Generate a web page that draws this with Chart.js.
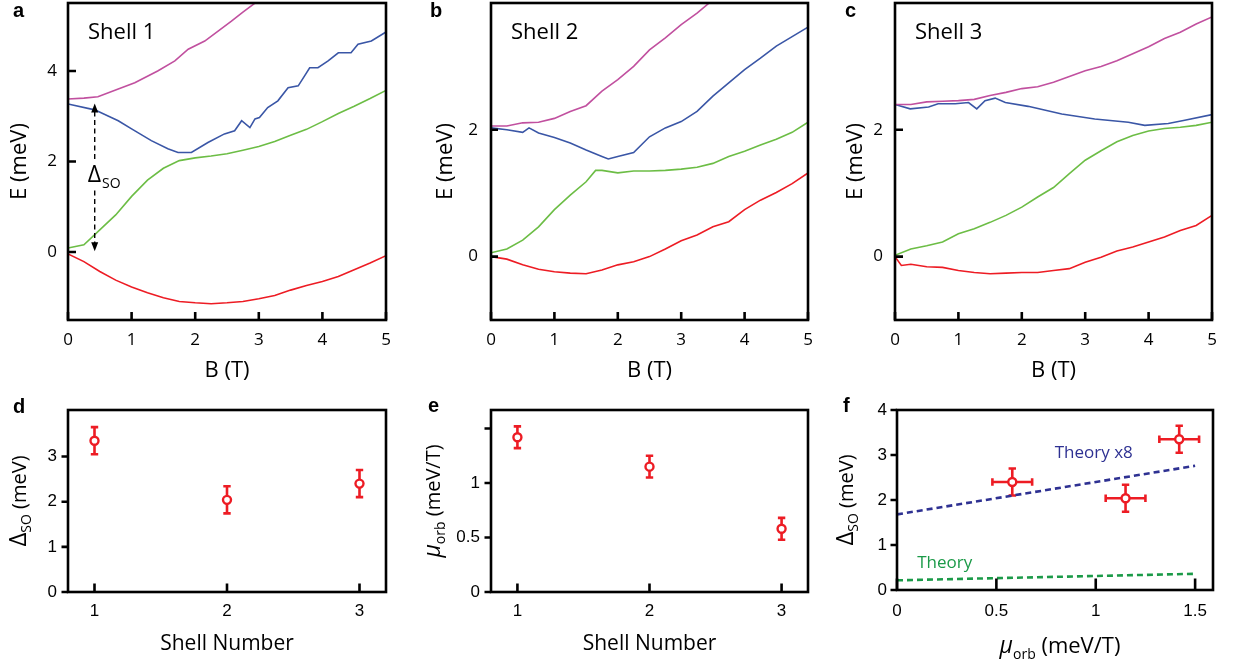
<!DOCTYPE html>
<html><head><meta charset="utf-8">
<script src="https://cdn.jsdelivr.net/npm/chart.js@4.4.1/dist/chart.umd.min.js"></script>
<style>
html,body{margin:0;padding:0;background:#fff;}
body{width:1234px;height:665px;overflow:hidden;position:relative;}
canvas{position:absolute;}
.pl{position:absolute;font:bold 20px 'Liberation Sans',Arial,sans-serif;line-height:20px;color:#000;}
</style></head><body>
<canvas id="ca"></canvas><canvas id="cb"></canvas><canvas id="cc"></canvas>
<canvas id="cd"></canvas><canvas id="ce"></canvas><canvas id="cf"></canvas>
<div class="pl" style="left:13px;top:0px">a</div>
<div class="pl" style="left:430px;top:0px">b</div>
<div class="pl" style="left:845px;top:0px">c</div>
<div class="pl" style="left:13px;top:396px">d</div>
<div class="pl" style="left:428px;top:395px">e</div>
<div class="pl" style="left:843px;top:395px">f</div>
<script>
// ================= DATA =================
const fieldB = [0,0.25,0.5,0.75,1,1.25,1.5,1.75,2,2.25,2.5,2.75,3,3.25,3.5,3.75,4,4.25,4.5,4.75,5];
const fieldTicks = [0,1,2,3,4,5];
const energyTicksA = [0,2,4];
const energyTicksBC = [0,2];

// Shell 1 (panel a)
const s1MagentaField = [0,0.25,0.47,0.79,1.05,1.41,1.68,1.89,2.15,2.36,2.57,2.75,3.0];
const s1Magenta = [3.38,3.40,3.43,3.60,3.74,4.00,4.22,4.48,4.66,4.88,5.10,5.30,5.56];
const s1BlueField = [0,0.42,0.79,1.0,1.31,1.57,1.73,1.94,2.2,2.46,2.62,2.73,2.86,2.94,3.01,3.14,3.30,3.46,3.62,3.72,3.80,3.93,4.09,4.25,4.45,4.56,4.77,5.0];
const s1Blue = [3.27,3.14,2.90,2.72,2.46,2.28,2.20,2.20,2.42,2.61,2.68,2.90,2.75,2.94,2.97,3.19,3.34,3.63,3.67,3.89,4.07,4.07,4.22,4.40,4.40,4.59,4.66,4.86];
const s1Green = [0.09,0.16,0.49,0.82,1.23,1.59,1.85,2.02,2.08,2.12,2.17,2.25,2.33,2.44,2.58,2.71,2.88,3.06,3.22,3.39,3.57];
const s1Red = [-0.04,-0.21,-0.43,-0.62,-0.77,-0.90,-1.01,-1.09,-1.12,-1.14,-1.12,-1.09,-1.03,-0.96,-0.84,-0.74,-0.65,-0.54,-0.39,-0.24,-0.08];

// Shell 2 (panel b)
const s2Magenta = [2.06,2.06,2.11,2.12,2.18,2.29,2.38,2.61,2.79,3.00,3.26,3.45,3.66,3.84,4.05];
const s2BlueField = [0,0.25,0.5,0.6,0.75,1,1.25,1.5,1.75,1.85,2,2.25,2.5,2.75,3,3.25,3.5,3.75,4,4.25,4.5,4.75,5];
const s2Blue = [2.03,2.00,1.96,2.03,1.95,1.88,1.79,1.68,1.58,1.54,1.58,1.64,1.89,2.03,2.13,2.29,2.53,2.74,2.95,3.13,3.32,3.47,3.62];
const s2GreenField = [0,0.25,0.5,0.75,1,1.25,1.5,1.65,1.75,2,2.25,2.5,2.75,3,3.25,3.5,3.75,4,4.25,4.5,4.75,5];
const s2Green = [0.06,0.12,0.26,0.47,0.74,0.97,1.18,1.36,1.36,1.32,1.35,1.35,1.36,1.38,1.41,1.47,1.58,1.66,1.76,1.85,1.96,2.12];
const s2Red = [0.00,-0.04,-0.13,-0.20,-0.24,-0.26,-0.27,-0.21,-0.13,-0.08,0.00,0.12,0.25,0.34,0.47,0.55,0.74,0.89,1.01,1.15,1.32];

// Shell 3 (panel c)
const s3Magenta = [2.40,2.40,2.44,2.45,2.46,2.48,2.54,2.59,2.65,2.68,2.75,2.84,2.93,3.00,3.09,3.20,3.31,3.44,3.54,3.67,3.78];
const s3BlueField = [0,0.24,0.53,0.68,0.95,1.16,1.29,1.42,1.58,1.74,2.10,2.63,3.15,3.68,3.94,4.31,4.57,5.0];
const s3Blue = [2.40,2.33,2.36,2.41,2.41,2.43,2.33,2.46,2.50,2.43,2.37,2.25,2.17,2.12,2.07,2.10,2.15,2.24];
const s3Green = [0.02,0.12,0.17,0.23,0.36,0.44,0.54,0.65,0.78,0.94,1.09,1.31,1.52,1.67,1.81,1.91,1.98,2.02,2.04,2.07,2.12];
const s3RedField = [0,0.1,0.25,0.5,0.75,1,1.25,1.5,1.75,2,2.25,2.5,2.75,3,3.25,3.5,3.75,4,4.25,4.5,4.75,5];
const s3Red = [0.00,-0.14,-0.12,-0.16,-0.17,-0.22,-0.25,-0.27,-0.26,-0.25,-0.25,-0.22,-0.19,-0.09,-0.01,0.09,0.15,0.23,0.31,0.41,0.49,0.65];

// Δ_SO arrow annotation (panel a), in data units
const arrowField = 0.42;
const arrowEnergies = [3.28, 2.02, 1.36, 0.02]; // top tip, gap start, gap end, bottom tip
const arrowLabelEnergy = 1.54;

// Panels d, e, f
const shellNumbers = [1,2,3];
const shellTicks = [1,2,3];
const deltaSO = [3.35,2.04,2.40];
const deltaSOErr = [0.30,0.30,0.30];
const muOrb = [1.42,1.15,0.58];
const muOrbErr = [0.10,0.10,0.10];
const deltaTicks = [0,1,2,3];
const muTicks = [0,0.5,1,1.5];
const muTickLabels = ['0','0.5','1',''];
const fDeltaTicks = [0,1,2,3,4];
const fMuTicks = [0,0.5,1,1.5];
const theoryMu = [0,1.5];
const theoryX8 = [1.68,2.76];
const theoryPlain = [0.215,0.36];
const theoryX8Label = {mu:0.99, delta:3.05};
const theoryLabel = {mu:0.24, delta:0.60};

// ================= STYLE =================
const MAG='#c1509f', BLU='#3a56a6', GRN='#6cbd45', RED='#ed1c24', NAVY='#2e3192', DGRN='#1b9a48';
const OS="'Open Sans', sans-serif", LS="'Liberation Sans', Arial, sans-serif";
Chart.defaults.font.family = OS;
Chart.defaults.color = '#000';

function pts(xs, ys){ return ys.map((v,i)=>({x:xs[i], y:v})); }

function setupCanvas(id, box){
  const c=document.getElementById(id);
  c.width=box.w; c.height=box.h;
  c.style.left=box.x+'px'; c.style.top=box.y+'px';
  c.style.width=box.w+'px'; c.style.height=box.h+'px';
  return c;
}
function fixSize(size, horiz){
  return function(s){
    if(horiz) s.height=size; else s.width=size;
    s.paddingTop=0; s.paddingBottom=0; s.paddingLeft=0; s.paddingRight=0;
  };
}
function setTicks(arr){ return function(s){ s.ticks = arr.map(v=>({value:v})); }; }

function framePlugin(xTick, yTick){
  return { id:'frame', afterDraw(chart){
    const {ctx, chartArea:a} = chart; const x=chart.scales.x, y=chart.scales.y;
    ctx.save(); ctx.strokeStyle='#000'; ctx.lineWidth=2.6;
    ctx.beginPath();
    x.ticks.forEach(t=>{const p=x.getPixelForValue(t.value); ctx.moveTo(p,a.bottom); ctx.lineTo(p,a.bottom-xTick);});
    y.ticks.forEach(t=>{const p=y.getPixelForValue(t.value); ctx.moveTo(a.left,p); ctx.lineTo(a.left+yTick,p);});
    ctx.stroke();
    ctx.strokeRect(a.left,a.top,a.right-a.left,a.bottom-a.top);
    ctx.restore();
  }};
}
function rich(ctx, parts, cx, cy, rot, color){
  ctx.save(); ctx.translate(cx,cy); if(rot) ctx.rotate(rot);
  ctx.fillStyle=color||'#000'; ctx.textBaseline='alphabetic'; ctx.textAlign='left';
  let w=0; parts.forEach(p=>{ctx.font=p.f; p.w=ctx.measureText(p.t).width; w+=p.w;});
  let x=-w/2; parts.forEach(p=>{ctx.font=p.f; ctx.fillText(p.t,x,p.dy||0); x+=p.w;});
  ctx.restore();
}
function errPlugin(){
  return { id:'err', beforeDatasetsDraw(chart){
    const ctx=chart.ctx, xs=chart.scales.x, ys=chart.scales.y;
    chart.data.datasets.forEach(ds=>{
      if(!ds.yErr && !ds.xErr) return;
      ctx.save(); ctx.strokeStyle=ds.borderColor; ctx.lineWidth=2.6; const cap=3.7;
      ds.data.forEach((p,i)=>{
        const px=xs.getPixelForValue(p.x), py=ys.getPixelForValue(p.y);
        ctx.beginPath();
        if(ds.yErr){
          const t=ys.getPixelForValue(p.y+ds.yErr[i]), b=ys.getPixelForValue(p.y-ds.yErr[i]);
          ctx.moveTo(px,t); ctx.lineTo(px,b);
          ctx.moveTo(px-cap,t); ctx.lineTo(px+cap,t); ctx.moveTo(px-cap,b); ctx.lineTo(px+cap,b);
        }
        if(ds.xErr){
          const l=xs.getPixelForValue(p.x-ds.xErr[i]), r=xs.getPixelForValue(p.x+ds.xErr[i]);
          ctx.moveTo(l,py); ctx.lineTo(r,py);
          ctx.moveTo(l,py-cap); ctx.lineTo(l,py+cap); ctx.moveTo(r,py-cap); ctx.lineTo(r,py+cap);
        }
        ctx.stroke();
      });
      ctx.restore();
    });
  }};
}

function lineDs(data, color){
  return {data, borderColor:color, borderWidth:1.6, pointRadius:0, showLine:true, tension:0, fill:false};
}

// Generic panel builder
function panel(id, box, plot, spec){
  const c=setupCanvas(id, box);
  const pad={left:0, top:plot.t-box.y, right:(box.x+box.w)-plot.r, bottom:0};
  const yW=plot.l-box.x, xH=(box.y+box.h)-plot.b;
  return new Chart(c, {
    type:'scatter',
    data:{datasets:spec.datasets},
    options:{
      responsive:false, animation:false, events:[],
      layout:{padding:pad},
      plugins:{legend:{display:false}, tooltip:{enabled:false}},
      scales:{
        x:{type:'linear', min:spec.x.min, max:spec.x.max,
           grid:{display:false, drawTicks:false, tickLength:0}, border:{display:false},
           afterBuildTicks:setTicks(spec.x.ticks),
           ticks:{autoSkip:false, maxRotation:0, padding:spec.x.pad, font:spec.x.font,
                  callback:(v,i)=> spec.x.labels ? spec.x.labels[i] : String(v)},
           title:spec.x.title ? {display:true, text:spec.x.title, font:{family:OS, size:spec.x.tsize}, padding:{top:0,bottom:spec.x.tpad}} : {display:false},
           afterFit:fixSize(xH,true)},
        y:{type:'linear', min:spec.y.min, max:spec.y.max,
           grid:{display:false, drawTicks:false, tickLength:0}, border:{display:false},
           afterBuildTicks:setTicks(spec.y.ticks),
           ticks:{autoSkip:false, padding:spec.y.pad, font:spec.y.font,
                  callback:(v,i)=> spec.y.labels ? spec.y.labels[i] : String(v)},
           title:spec.y.title ? {display:true, text:spec.y.title, font:{family:OS, size:22}, padding:{top:spec.y.tpad,bottom:0}} : {display:false},
           afterFit:fixSize(yW,false)}
      }
    },
    plugins:[errPlugin(), framePlugin(spec.xTick, spec.yTick)].concat(spec.extra||[])
  });
}

function shellText(label){
  return {id:'shell', afterDraw(chart){
    const ctx=chart.ctx, a=chart.chartArea;
    ctx.save(); ctx.font="22px "+OS; ctx.fillStyle='#000'; ctx.textBaseline='alphabetic';
    ctx.fillText(label, a.left+20, a.top+36); ctx.restore();
  }};
}
const arrowPlugin = {id:'arrow', afterDraw(chart){
  const ctx=chart.ctx, xs=chart.scales.x, ys=chart.scales.y;
  const px=xs.getPixelForValue(arrowField);
  const yTop=ys.getPixelForValue(arrowEnergies[0]), g1=ys.getPixelForValue(arrowEnergies[1]),
        g2=ys.getPixelForValue(arrowEnergies[2]), yBot=ys.getPixelForValue(arrowEnergies[3]);
  ctx.save(); ctx.strokeStyle='#000'; ctx.fillStyle='#000'; ctx.lineWidth=1.4; ctx.setLineDash([5,3.5]);
  ctx.beginPath(); ctx.moveTo(px,yTop+8); ctx.lineTo(px,g1); ctx.moveTo(px,g2); ctx.lineTo(px,yBot-8); ctx.stroke();
  ctx.setLineDash([]);
  ctx.beginPath(); ctx.moveTo(px,yTop); ctx.lineTo(px-3.5,yTop+9); ctx.lineTo(px+3.5,yTop+9); ctx.closePath(); ctx.fill();
  ctx.beginPath(); ctx.moveTo(px,yBot); ctx.lineTo(px-3.5,yBot-9); ctx.lineTo(px+3.5,yBot-9); ctx.closePath(); ctx.fill();
  const by=ys.getPixelForValue(arrowLabelEnergy);
  ctx.textBaseline='alphabetic'; ctx.font="23px "+OS; ctx.fillText('Δ', px-7, by);
  const w=ctx.measureText('Δ').width; ctx.font="14px "+OS; ctx.fillText('SO', px-7+w+1, by+6);
  ctx.restore();
}};

// ---------- panel a ----------
const xBspec = ()=>({min:0,max:5,ticks:fieldTicks,pad:10,font:{family:OS,size:17},title:'B (T)',tsize:22,tpad:10.8});
panel('ca', {x:0,y:0,w:415,h:395}, {l:68,t:3,r:386,b:320}, {
  datasets:[lineDs(pts(s1MagentaField,s1Magenta),MAG), lineDs(pts(s1BlueField,s1Blue),BLU), lineDs(pts(fieldB,s1Green),GRN), lineDs(pts(fieldB,s1Red),RED)],
  x:xBspec(), y:{min:-1.5,max:5.5,ticks:energyTicksA,pad:11,font:{family:OS,size:17},title:'E (meV)',tpad:6.8},
  xTick:8, yTick:8, extra:[shellText('Shell 1'), arrowPlugin]
});
// ---------- panel b ----------
panel('cb', {x:420,y:0,w:408,h:395}, {l:491,t:3,r:808,b:320}, {
  datasets:[lineDs(pts(fieldB,s2Magenta),MAG), lineDs(pts(s2BlueField,s2Blue),BLU), lineDs(pts(s2GreenField,s2Green),GRN), lineDs(pts(fieldB,s2Red),RED)],
  x:xBspec(), y:{min:-1,max:4,ticks:energyTicksBC,pad:13,font:{family:OS,size:17},title:'E (meV)',tpad:12.3},
  xTick:8, yTick:7, extra:[shellText('Shell 2')]
});
// ---------- panel c ----------
panel('cc', {x:830,y:0,w:404,h:395}, {l:895,t:3,r:1212,b:320}, {
  datasets:[lineDs(pts(fieldB,s3Magenta),MAG), lineDs(pts(s3BlueField,s3Blue),BLU), lineDs(pts(fieldB,s3Green),GRN), lineDs(pts(s3RedField,s3Red),RED)],
  x:xBspec(), y:{min:-1,max:4,ticks:energyTicksBC,pad:12,font:{family:OS,size:17},title:'E (meV)',tpad:12.3},
  xTick:8, yTick:8, extra:[shellText('Shell 3')]
});

// ---------- bottom panels ----------
function ptDs(data, extra){
  return Object.assign({data, borderColor:RED, backgroundColor:'#fff', pointBackgroundColor:'#fff', pointBorderColor:RED,
    pointRadius:4, pointBorderWidth:2.4, showLine:false}, extra);
}
function yTitle(parts, dx){
  return {id:'ytitle', afterDraw(chart){
    const a=chart.chartArea; rich(chart.ctx, parts, a.left-dx, (a.top+a.bottom)/2, -Math.PI/2);
  }};
}
const deltaTitle = [{t:'Δ',f:'24px '+OS},{t:'SO',f:'14px '+OS,dy:5},{t:' (meV)',f:'20px '+OS}];
const muTitle = [{t:'μ',f:'italic 23px '+OS},{t:'orb',f:'14px '+OS,dy:5},{t:' (meV/T)',f:'20px '+OS}];

panel('cd', {x:0,y:398,w:415,h:267}, {l:68,t:410,r:386,b:592}, {
  datasets:[ptDs(pts(shellNumbers,deltaSO),{yErr:deltaSOErr})],
  x:{min:0.8,max:3.2,ticks:shellTicks,pad:9.5,font:{family:LS,size:17},title:'Shell Number',tsize:21,tpad:8.4},
  y:{min:0,max:4.03,ticks:deltaTicks,pad:11,font:{family:LS,size:17}},
  xTick:8.5, yTick:-6.5, extra:[yTitle(deltaTitle,42)]
});
panel('ce', {x:420,y:398,w:408,h:267}, {l:491,t:410,r:808,b:592}, {
  datasets:[ptDs(pts(shellNumbers,muOrb),{yErr:muOrbErr})],
  x:{min:0.8,max:3.2,ticks:shellTicks,pad:9.5,font:{family:LS,size:17},title:'Shell Number',tsize:21,tpad:8.4},
  y:{min:0,max:1.67,ticks:muTicks,labels:muTickLabels,pad:11,font:{family:LS,size:17}},
  xTick:8.5, yTick:-6.5, extra:[yTitle(muTitle,51)]
});
const fText = {id:'ftext', afterDraw(chart){
  const ctx=chart.ctx, a=chart.chartArea, xs=chart.scales.x, ys=chart.scales.y;
  rich(ctx, [{t:'μ',f:'italic 23px '+OS},{t:'orb',f:'14px '+OS,dy:6},{t:' (meV/T)',f:'22px '+OS}], (a.left+a.right)/2+5, a.bottom+63, 0);
  ctx.save(); ctx.font='17px '+OS; ctx.textAlign='center'; ctx.textBaseline='middle';
  ctx.fillStyle=NAVY; ctx.fillText('Theory x8', xs.getPixelForValue(theoryX8Label.mu), ys.getPixelForValue(theoryX8Label.delta));
  ctx.fillStyle=DGRN; ctx.fillText('Theory', xs.getPixelForValue(theoryLabel.mu), ys.getPixelForValue(theoryLabel.delta));
  ctx.restore();
}};
panel('cf', {x:830,y:398,w:404,h:267}, {l:897,t:410,r:1213,b:590}, {
  datasets:[
    {data:pts(theoryMu,theoryX8), borderColor:NAVY, borderWidth:2.6, borderDash:[6,4], pointRadius:0, showLine:true},
    {data:pts(theoryMu,theoryPlain), borderColor:DGRN, borderWidth:2.6, borderDash:[6,4], pointRadius:0, showLine:true},
    ptDs(pts(muOrb,deltaSO),{yErr:deltaSOErr, xErr:muOrbErr})
  ],
  x:{min:0,max:1.59,ticks:fMuTicks,pad:11.5,font:{family:LS,size:17}},
  y:{min:0,max:4,ticks:fDeltaTicks,pad:10,font:{family:LS,size:17}},
  xTick:11.5, yTick:-6.5, extra:[yTitle(deltaTitle,44), fText]
});
</script>
</body></html>
